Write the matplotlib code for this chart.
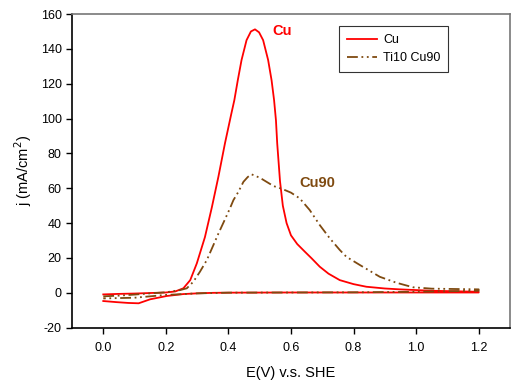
import matplotlib
matplotlib.use("Agg")
import matplotlib.pyplot as plt

plt.rcParams['font.family'] = ['Liberation Sans', 'DejaVu Sans']
plt.rcParams['axes.unicode_minus'] = False

RED = '#ff0000'
BROWN = '#7f4a10'

# Cu: forward scan (with the oxidation peak) then reverse scan
cu_E = [0.00, 0.05, 0.10, 0.15, 0.20, 0.23, 0.256, 0.278, 0.299, 0.325, 0.347,
        0.368, 0.389, 0.409, 0.419, 0.43, 0.442, 0.458, 0.472, 0.485, 0.498,
        0.511, 0.527, 0.538, 0.546, 0.552, 0.556, 0.565, 0.574, 0.586, 0.60,
        0.62, 0.645, 0.666, 0.692, 0.72, 0.756, 0.80, 0.841, 0.90, 0.947, 1.05, 1.2,
        1.2, 1.0, 0.8, 0.6, 0.4, 0.35, 0.30, 0.256, 0.203, 0.15, 0.113, 0.08,
        0.04, 0.00]
cu_j = [-0.9, -0.6, -0.4, -0.1, 0.2, 0.8, 2.6, 7.3, 16.9, 32, 49,
        66.6, 85.8, 102.5, 110.6, 122, 133.6, 145, 150, 151.2, 149.5,
        145, 133.6, 122, 110.6, 99, 85.8, 64, 50, 40, 33,
        28, 23.5, 19.8, 15, 11, 7.3, 5, 3.5, 2.5, 2.0, 1.2, 0.6,
        0.2, 0.2, 0.2, 0.2, 0.1, 0.0, -0.3, -0.7, -1.8, -3.7, -6.0, -5.8,
        -5.3, -4.7]

# Ti10 Cu90
ti_E = [0.00, 0.05, 0.10, 0.15, 0.20, 0.246, 0.267, 0.288, 0.309, 0.331, 0.352,
        0.368, 0.386, 0.405, 0.416, 0.432, 0.448, 0.462, 0.474, 0.501, 0.522,
        0.544, 0.575, 0.60, 0.628, 0.66, 0.692, 0.724, 0.756, 0.777, 0.82,
        0.884, 0.937, 0.99, 1.05, 1.2,
        1.2, 1.0, 0.8, 0.6, 0.4, 0.3, 0.2, 0.1, 0.0]
ti_j = [-2.0, -1.6, -1.0, -0.3, 0.3, 1.6, 2.6, 6.4, 12.1, 18.8, 27.4,
        34, 41, 48.5, 53.2, 58, 63.7, 66.5, 68, 66, 63.7,
        61.3, 59.4, 57.5, 54.2, 47.5, 38.9, 31.3, 24.6, 20.7, 16,
        9.2, 5.8, 3.2, 2.4, 2.0,
        1.2, 0.6, 0.3, 0.2, 0.1, -0.3, -1.2, -2.8, -3.2]

fig = plt.figure(figsize=(5.12, 3.83), dpi=100)
ax = fig.add_axes([0.1406, 0.1444, 0.8554, 0.819])

ax.plot(cu_E, cu_j, color=RED, lw=1.3, label='Cu')
ax.plot(ti_E, ti_j, color=BROWN, lw=1.3, ls=(0, (6, 2, 1, 2, 1, 2)), label='Ti10 Cu90')

ax.text(0.542, 150, 'Cu', color=RED, fontsize=10.5, fontweight='bold', va='center')
ax.text(0.628, 63.2, 'Cu90', color=BROWN, fontsize=10.5, fontweight='bold', va='center')

ax.set_xlim(-0.1, 1.3)
ax.set_ylim(-20, 160)
ax.set_xticks([0.0, 0.2, 0.4, 0.6, 0.8, 1.0, 1.2])
ax.set_yticks(range(-20, 161, 20))
ax.tick_params(labelsize=9, direction='out', length=4, width=1, colors='black')
ax.tick_params(axis='x', pad=6)
for s in ['top', 'right']:
    ax.spines[s].set_color('#777777')
    ax.spines[s].set_linewidth(1.2)
for s in ['left', 'bottom']:
    ax.spines[s].set_linewidth(1.2)

ax.set_xlabel('E(V) v.s. SHE', fontsize=10.5, labelpad=9)
ax.set_ylabel('j (mA/cm$^2$)', fontsize=10.5, labelpad=5)

leg = ax.legend(loc='upper left', bbox_to_anchor=(0.61, 0.962), borderaxespad=0,
                fontsize=9, frameon=True, fancybox=False, edgecolor='black',
                handlelength=2.4, handletextpad=0.45, labelspacing=0.5,
                borderpad=0.65)
leg.get_frame().set_linewidth(0.8)

fig.savefig('out.png', dpi=100)
